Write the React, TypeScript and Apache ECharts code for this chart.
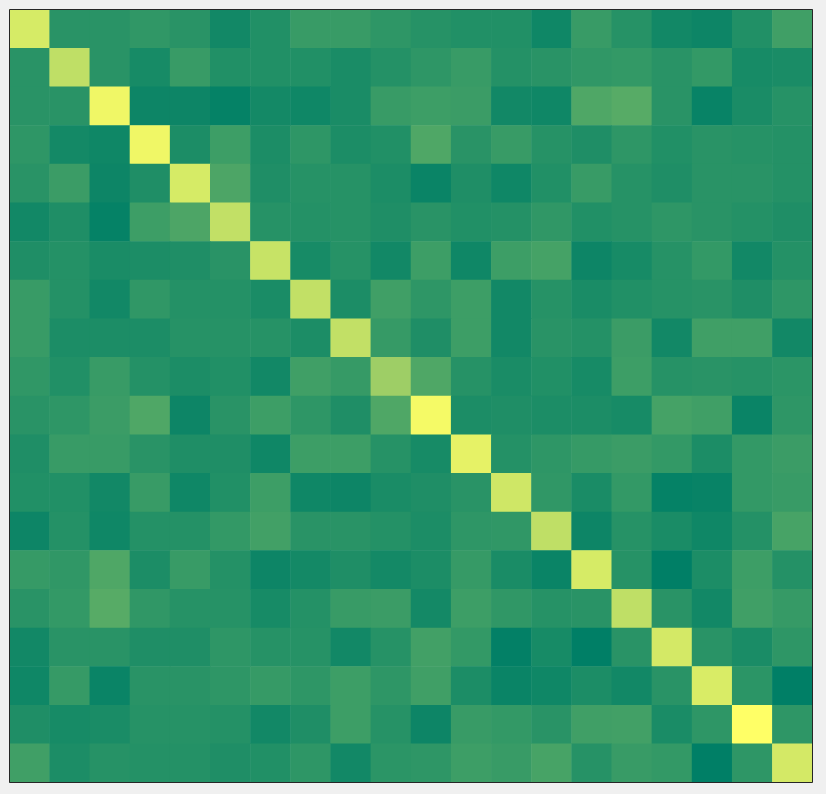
import React, { useEffect, useRef } from "react";
import * as echarts from "echarts";

const categories: string[] = Array.from({ length: 20 }, (_, i) => String(i));

const row0 = [0.84, 0.16, 0.16, 0.19, 0.16, 0.07, 0.13, 0.22, 0.22, 0.18, 0.15, 0.13, 0.13, 0.06, 0.22, 0.15, 0.07, 0.05, 0.13, 0.25];
const row1 = [0.16, 0.75, 0.16, 0.09, 0.22, 0.13, 0.13, 0.13, 0.10, 0.14, 0.18, 0.22, 0.14, 0.16, 0.19, 0.20, 0.16, 0.20, 0.09, 0.10];
const row2 = [0.16, 0.16, 0.94, 0.05, 0.05, 0.02, 0.08, 0.06, 0.10, 0.22, 0.24, 0.23, 0.07, 0.06, 0.31, 0.34, 0.16, 0.03, 0.10, 0.15];
const row3 = [0.18, 0.08, 0.06, 0.94, 0.11, 0.24, 0.11, 0.18, 0.11, 0.13, 0.31, 0.16, 0.22, 0.15, 0.12, 0.18, 0.13, 0.16, 0.15, 0.14];
const row4 = [0.16, 0.23, 0.05, 0.12, 0.84, 0.30, 0.12, 0.15, 0.15, 0.11, 0.04, 0.12, 0.06, 0.13, 0.22, 0.15, 0.12, 0.16, 0.16, 0.14];
const row5 = [0.07, 0.12, 0.02, 0.24, 0.30, 0.76, 0.15, 0.14, 0.15, 0.12, 0.16, 0.13, 0.14, 0.19, 0.13, 0.15, 0.18, 0.16, 0.14, 0.12];
const row6 = [0.12, 0.14, 0.10, 0.11, 0.12, 0.16, 0.78, 0.09, 0.15, 0.07, 0.24, 0.06, 0.24, 0.27, 0.05, 0.09, 0.15, 0.20, 0.07, 0.14];
const row7 = [0.22, 0.14, 0.07, 0.19, 0.14, 0.14, 0.10, 0.76, 0.11, 0.25, 0.18, 0.24, 0.07, 0.15, 0.10, 0.13, 0.15, 0.16, 0.12, 0.18];
const row8 = [0.22, 0.11, 0.11, 0.11, 0.15, 0.15, 0.15, 0.11, 0.76, 0.21, 0.12, 0.24, 0.07, 0.16, 0.14, 0.23, 0.07, 0.25, 0.25, 0.07];
const row9 = [0.19, 0.13, 0.22, 0.14, 0.11, 0.13, 0.07, 0.25, 0.21, 0.62, 0.31, 0.15, 0.10, 0.13, 0.09, 0.24, 0.15, 0.16, 0.15, 0.17];
const row10 = [0.16, 0.18, 0.23, 0.31, 0.05, 0.16, 0.24, 0.18, 0.12, 0.31, 0.96, 0.11, 0.12, 0.11, 0.11, 0.09, 0.27, 0.25, 0.04, 0.18];
const row11 = [0.12, 0.22, 0.22, 0.16, 0.12, 0.12, 0.06, 0.24, 0.24, 0.15, 0.09, 0.90, 0.14, 0.18, 0.21, 0.23, 0.20, 0.11, 0.20, 0.23];
const row12 = [0.13, 0.13, 0.07, 0.22, 0.06, 0.13, 0.24, 0.06, 0.05, 0.10, 0.12, 0.16, 0.81, 0.19, 0.10, 0.20, 0.02, 0.03, 0.20, 0.22];
const row13 = [0.05, 0.14, 0.06, 0.14, 0.14, 0.20, 0.26, 0.16, 0.16, 0.14, 0.11, 0.18, 0.19, 0.75, 0.05, 0.15, 0.10, 0.06, 0.14, 0.28];
const row14 = [0.21, 0.19, 0.31, 0.11, 0.22, 0.14, 0.05, 0.08, 0.12, 0.08, 0.11, 0.21, 0.10, 0.04, 0.84, 0.15, 0.00, 0.11, 0.24, 0.14];
const row15 = [0.16, 0.20, 0.34, 0.19, 0.15, 0.15, 0.09, 0.14, 0.22, 0.23, 0.08, 0.24, 0.19, 0.15, 0.16, 0.75, 0.16, 0.07, 0.25, 0.21];
const row16 = [0.07, 0.16, 0.16, 0.12, 0.12, 0.18, 0.15, 0.15, 0.07, 0.15, 0.26, 0.20, 0.01, 0.09, 0.00, 0.16, 0.83, 0.16, 0.10, 0.18];
const row17 = [0.06, 0.21, 0.04, 0.16, 0.16, 0.18, 0.21, 0.18, 0.24, 0.18, 0.25, 0.11, 0.04, 0.06, 0.11, 0.07, 0.16, 0.85, 0.17, 0.00];
const row18 = [0.12, 0.09, 0.10, 0.15, 0.15, 0.14, 0.07, 0.12, 0.24, 0.15, 0.05, 0.22, 0.20, 0.16, 0.25, 0.26, 0.10, 0.18, 1.00, 0.18];
const row19 = [0.25, 0.11, 0.15, 0.14, 0.14, 0.12, 0.13, 0.18, 0.07, 0.17, 0.18, 0.24, 0.22, 0.28, 0.15, 0.22, 0.20, 0.00, 0.18, 0.83];

const rows: number[][] = [
  row0, row1, row2, row3, row4, row5, row6, row7, row8, row9,
  row10, row11, row12, row13, row14, row15, row16, row17, row18, row19,
];

export default function App() {
  const ref = useRef<HTMLDivElement>(null);
  useEffect(() => {
    if (!ref.current) return;
    const chart = echarts.init(ref.current, undefined, { renderer: "svg" });
    const data: [number, number, number][] = [];
    rows.forEach((r, yi) => r.forEach((v, xi) => data.push([xi, yi, v])));
    chart.setOption({
      animation: false,
      backgroundColor: "#f0f0f0",
      grid: { left: 9.5, top: 9.5, width: 803, height: 773 },
      xAxis: { type: "category", data: categories, show: false },
      yAxis: { type: "category", data: categories, inverse: true, show: false },
      visualMap: {
        show: false,
        min: 0,
        max: 1,
        dimension: 2,
        inRange: { color: ["#007f66", "#ffff66"] },
      },
      series: [
        {
          type: "heatmap",
          data,
          itemStyle: { borderWidth: 0 },
          emphasis: { disabled: true },
        },
      ],
      graphic: [
        {
          type: "rect",
          z: 100,
          shape: { x: 9.5, y: 9.5, width: 803, height: 773 },
          style: { fill: "none", stroke: "#262626", lineWidth: 1 },
          silent: true,
        },
      ],
    });
    return () => chart.dispose();
  }, []);
  return (
    <div
      ref={ref}
      style={{ position: "fixed", left: 0, top: 0, width: 826, height: 794 }}
    />
  );
}
